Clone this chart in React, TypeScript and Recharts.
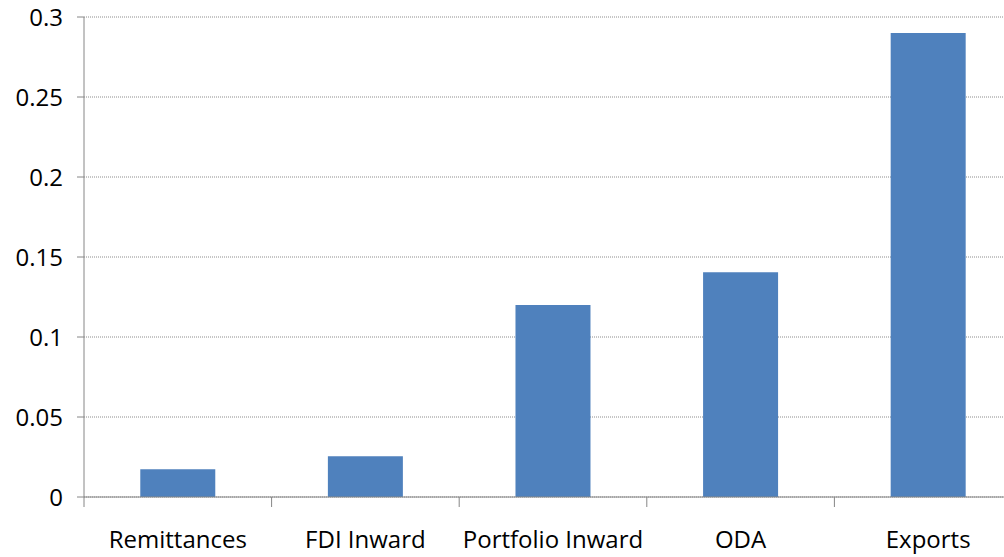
import React from 'react';
import { BarChart, Bar, XAxis, YAxis, CartesianGrid } from 'recharts';

const categories = ['Remittances', 'FDI Inward', 'Portfolio Inward', 'ODA', 'Exports'];
const values = [0.0173, 0.0254, 0.12, 0.1404, 0.29];
const yTicks = [0, 0.05, 0.1, 0.15, 0.2, 0.25, 0.3];

const data = categories.map((name, i) => ({ name, value: values[i] }));

const font = "'Open Sans', sans-serif";
const axisColor = '#868686';
const tickSize = 6;
const tickMargin = 28;

// category label plus a tick mark on the boundary to its left (Excel style)
function CategoryTick(props: any) {
  const { x, y, payload, index } = props;
  const half = payload.offset || 0;
  const axisY = y - tickSize - tickMargin;
  return (
    <g>
      <line x1={x - half} x2={x - half} y1={axisY} y2={axisY + 10} stroke={axisColor} />
      {index === categories.length - 1 && (
        <line x1={x + half} x2={x + half} y1={axisY} y2={axisY + 10} stroke={axisColor} />
      )}
      <text x={x} y={y} dy="0.71em" textAnchor="middle" fill="#000" fontSize={24} fontFamily={font}>
        {payload.value}
      </text>
    </g>
  );
}

export default function App() {
  return (
    <div style={{ position: 'absolute', left: 0, top: 0, width: 1004, height: 557, overflow: 'hidden', background: '#fff' }}>
      <BarChart
        width={1022}
        height={557}
        data={data}
        margin={{ top: 17, right: 0, left: 0, bottom: 0 }}
        barCategoryGap="30%"
      >
        <CartesianGrid
          vertical={false}
          stroke="#8c8c8c"
          strokeDasharray="1 1"
        />
        <XAxis
          dataKey="name"
          height={60}
          tickLine={false}
          tickSize={tickSize}
          tickMargin={tickMargin}
          axisLine={{ stroke: axisColor }}
          tick={<CategoryTick />}
          interval={0}
        />
        <YAxis
          width={84}
          domain={[0, 0.3]}
          ticks={yTicks}
          tickSize={7}
          tickMargin={14}
          tickLine={{ stroke: axisColor }}
          axisLine={{ stroke: axisColor }}
          tick={{ fill: '#000', fontSize: 24, fontFamily: font }}
          tickFormatter={(v: number) => String(v)}
        />
        <Bar dataKey="value" fill="#4f81bd" isAnimationActive={false} />
      </BarChart>
    </div>
  );
}
